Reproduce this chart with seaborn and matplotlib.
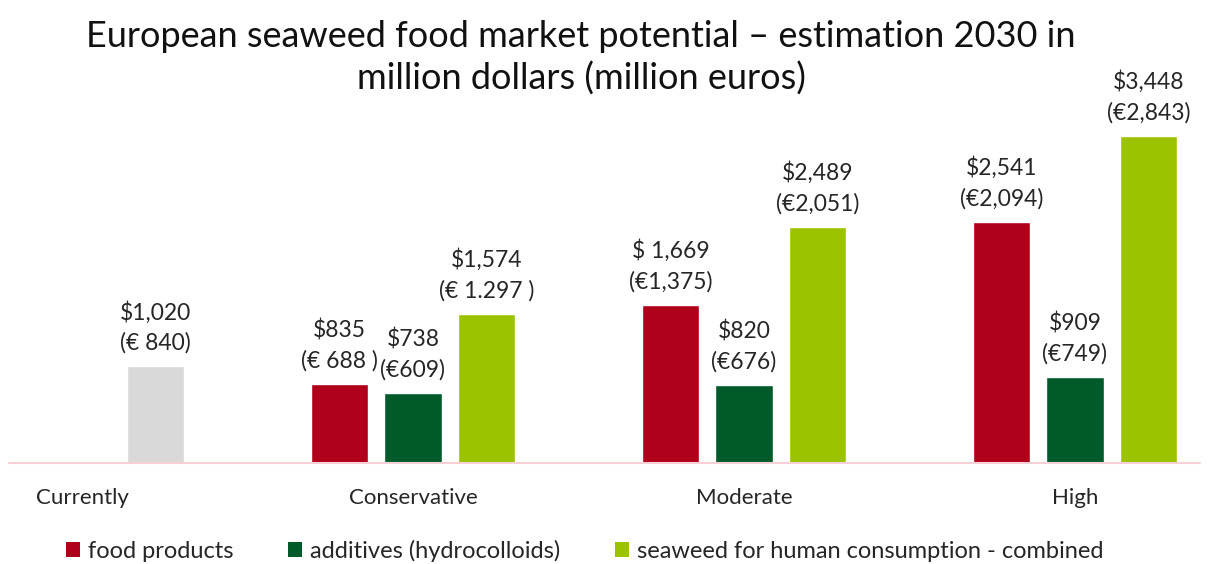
import matplotlib
matplotlib.use("Agg")
import matplotlib.pyplot as plt
from matplotlib.patches import Patch
import pandas as pd
import seaborn as sns

# Scenario categories and series
scenarios = ["Currently", "Conservative", "Moderate", "High"]
series = ["food products", "additives (hydrocolloids)",
          "seaweed for human consumption - combined"]

# Market values, million dollars (None = not reported)
food_products = [None, 835, 1669, 2541]
additives = [None, 738, 820, 909]
combined = [1020, 1574, 2489, 3448]

# Value labels (dollars, euros) as printed
food_labels = ["", "$835\n(€ 688 )", "$ 1,669\n(€1,375)", "$2,541\n(€2,094)"]
additive_labels = ["", "$738\n(€609)", "$820\n(€676)", "$909\n(€749)"]
combined_labels = ["$1,020\n(€ 840)", "$1,574\n(€ 1.297 )",
                   "$2,489\n(€2,051)", "$3,448\n(€2,843)"]

title = ("European seaweed food market potential – estimation 2030 in\n"
         "million dollars (million euros)")

colors = ["#b0001a", "#005a2a", "#9bc300"]
current_color = "#d9d9d9"
text_color = "#262626"

values_by_series = dict(zip(series, [food_products, additives, combined]))
labels_by_series = dict(zip(series, [food_labels, additive_labels, combined_labels]))

rows = []
for name in series:
    for sc, v in zip(scenarios, values_by_series[name]):
        if v is not None:
            rows.append({"scenario": sc, "series": name, "value": v})
df = pd.DataFrame(rows)

sns.set_theme(style="white")
plt.rcParams["font.family"] = ["Lato", "DejaVu Sans"]
plt.rcParams["text.color"] = text_color

fig = plt.figure(figsize=(12.08, 5.64), dpi=100)
ax = fig.add_axes([9 / 1208, 1 - 463 / 564, 1191 / 1208, 343 / 564])

sns.barplot(data=df, x="scenario", y="value", hue="series",
            order=scenarios, hue_order=series, palette=colors, saturation=1,
            width=0.665, gap=0.22, dodge=True, legend=False, ax=ax)

ax.set_xlim(-0.2205, 3.378)
ax.set_ylim(0, 3618)

# The current-market bar is shown in grey
for bar in ax.patches:
    if bar.get_x() + bar.get_width() / 2 < 0.5 and bar.get_height() > 0:
        bar.set_facecolor(current_color)

for container, name in zip(ax.containers, series):
    present = [lab for lab, v in zip(labels_by_series[name], values_by_series[name])
               if v is not None]
    ax.bar_label(container, labels=present, padding=9, fontsize=16.5,
                 linespacing=1.5, color=text_color, clip_on=False)

for s in ax.spines.values():
    s.set_visible(False)
ax.axhline(0, color="#f7cfd6", lw=1.5, clip_on=False)
ax.set_yticks([])
ax.set_ylabel("")
ax.set_xlabel("")
ax.tick_params(axis="x", length=0, pad=18, labelsize=16, labelcolor=text_color)

fig.text(0.481, 1 - 57.5 / 564, title, ha="center", va="center", fontsize=26,
         linespacing=1.3, color="#111111")

handles = [Patch(facecolor=c, edgecolor="none") for c in colors]
fig.legend(handles, series, loc="center", bbox_to_anchor=(0.484, 1 - 551 / 564),
           ncol=3, frameon=False, fontsize=17, handlelength=0.6, handleheight=0.6,
           handletextpad=0.35, columnspacing=2.3, borderaxespad=0, borderpad=0)

fig.savefig("out.png", dpi=100)
